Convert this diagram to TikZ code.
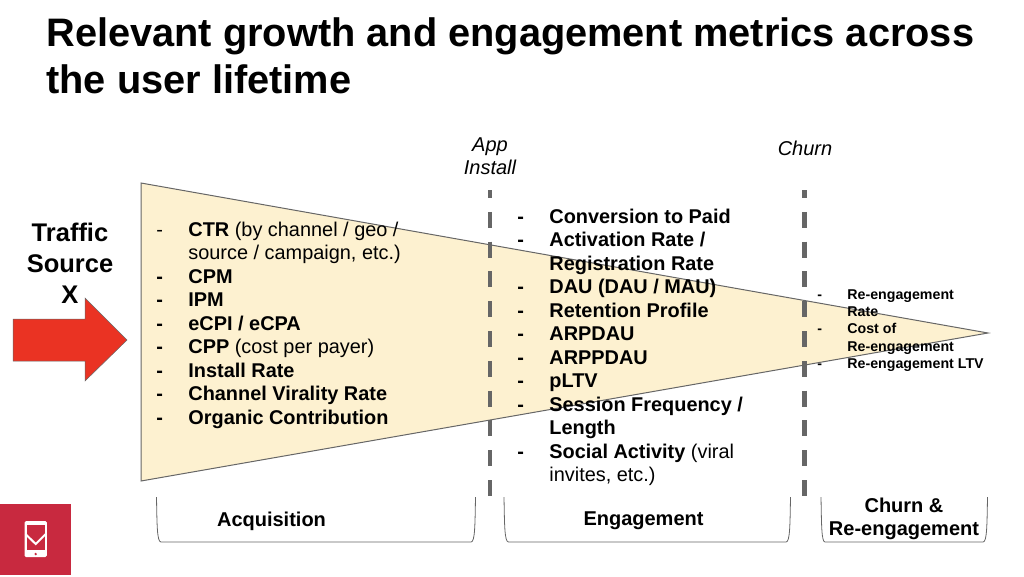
\documentclass[tikz,border=0pt]{standalone}
\usepackage{fontspec}
\setmainfont{Liberation Sans}
\usepackage{array}
\usetikzlibrary{positioning,calc}
\definecolor{funnelfill}{HTML}{FDF1D0}
\definecolor{arrowred}{HTML}{EA3323}
\definecolor{logored}{HTML}{C8293F}
\definecolor{rulegray}{HTML}{666666}

\begin{document}
\begin{tikzpicture}[x=1pt, y=-1pt, thick]
        \tikzset{
            title/.style={anchor=north west, inner sep=0pt, align=left, font=\fontsize{39.75}{47}\selectfont\bfseries},
            source/.style={inner sep=0pt, align=center, font=\fontsize{25.5}{31}\selectfont\bfseries},
            event/.style={inner sep=0pt, align=center, font=\fontsize{20}{22.5}\selectfont\itshape},
            stage/.style={inner sep=0pt, align=center, font=\fontsize{20}{23}\selectfont\bfseries},
            metrics/.style={anchor=north west, inner sep=0pt, font=\fontsize{19.9}{23.5}\selectfont},
            smallmetrics/.style={anchor=north west, inner sep=0pt, font=\fontsize{14.2}{17.2}\selectfont},
            divider/.style={draw=rulegray, line width=4.5pt, dash pattern=on 16pt off 13.8pt, dash phase=8pt},
            bracket/.style={draw=rulegray, line width=0.8pt}
        }
        \useasboundingbox (0,0) rectangle (1024,576);

        % Title
        \node [title] (heading) at (46,17.5) {Relevant growth and engagement metrics across\\the user lifetime};

        % Funnel
        \draw [draw=rulegray, line width=1pt, fill=funnelfill] (141,183) -- (988,333) -- (141,481) -- cycle;

        % Traffic source
        \node [source] (traffic) at (70,263) {Traffic\\Source\\X};
        \draw [draw=rulegray, line width=0.5pt, fill=arrowred] (13,319) -- (85,319) -- (85,298) -- (127,340) -- (85,381) -- (85,361) -- (13,361) -- cycle;

        % Lifetime events
        \coordinate (install top) at (490,190);
        \coordinate (install end) at (490,497);
        \coordinate (churn top) at (804.5,190);
        \coordinate (churn end) at (804.5,497);
        \draw [divider] (install top) -- (install end);
        \draw [divider] (churn top) -- (churn end);
        \node [event] (install) at (490,156) {App\\Install};
        \node [event] (churn) at (805,148) {Churn};

        % Metric lists
        \node [metrics] (acquisition list) at (156,219.5) {%
            \begin{tabular}{@{}>{\raggedright}p{32pt}@{}l@{}}
            - & \textbf{CTR} (by channel / geo /\\
              & source / campaign, etc.)\\
            \textbf{-} & \textbf{CPM}\\
            \textbf{-} & \textbf{IPM}\\
            \textbf{-} & \textbf{eCPI / eCPA}\\
            \textbf{-} & \textbf{CPP} (cost per payer)\\
            \textbf{-} & \textbf{Install Rate}\\
            \textbf{-} & \textbf{Channel Virality Rate}\\
            \textbf{-} & \textbf{Organic Contribution}
            \end{tabular}};
        \node [metrics] (engagement list) at (517,206.5) {%
            \begin{tabular}{@{}>{\raggedright}p{32pt}@{}l@{}}
            \textbf{-} & \textbf{Conversion to Paid}\\
            \textbf{-} & \textbf{Activation Rate /}\\
              & \textbf{Registration Rate}\\
            \textbf{-} & \textbf{DAU (DAU / MAU)}\\
            \textbf{-} & \textbf{Retention Profile}\\
            \textbf{-} & \textbf{ARPDAU}\\
            \textbf{-} & \textbf{ARPPDAU}\\
            \textbf{-} & \textbf{pLTV}\\
            \textbf{-} & \textbf{Session Frequency /}\\
              & \textbf{Length}\\
            \textbf{-} & \textbf{Social Activity} (viral\\
              & invites, etc.)
            \end{tabular}};
        \node [smallmetrics] (churn list) at (817,287) {%
            \begin{tabular}{@{}>{\raggedright}p{30pt}@{}l@{}}
            \textbf{-} & \textbf{Re-engagement}\\
              & \textbf{Rate}\\
            \textbf{-} & \textbf{Cost of}\\
              & \textbf{Re-engagement}\\
            \textbf{-} & \textbf{Re-engagement LTV}
            \end{tabular}};

        % Stage brackets
        \draw [bracket] (156.5,497) .. controls (157,525) and (157,542) .. (161,542) -- (471,542) .. controls (475,542) and (475,525) .. (475.5,497);
        \draw [bracket] (504,497) .. controls (504.5,525) and (504.5,542) .. (508.5,542) -- (786,542) .. controls (790,542) and (790,525) .. (790.5,497);
        \draw [bracket] (821,497) .. controls (821.5,525) and (821.5,542) .. (825,542) -- (983,542) .. controls (987,542) and (987,525) .. (987.5,497);
        \node [stage] (acquisition) at (271.5,521) {Acquisition};
        \node [stage] (engagement) at (643.5,521) {Engagement};
        \node [stage] (reengagement) at (904,518.5) {Churn \&\\Re-engagement};

        % Logo
        \node [draw=none, fill=logored, minimum size=71pt, inner sep=0pt, anchor=north west] (logo) at (0,504) {};
        \fill [white, rounded corners=1.5pt] (24.5,521) rectangle (46.8,557);
        \fill [logored] (26.5,525) rectangle (44.8,550);
        \draw [white, line width=2pt] (25.5,534) -- (35.7,544) -- (45.8,534);
        \fill [logored] (35.7,554) circle (1.3);
\end{tikzpicture}
\end{document}
